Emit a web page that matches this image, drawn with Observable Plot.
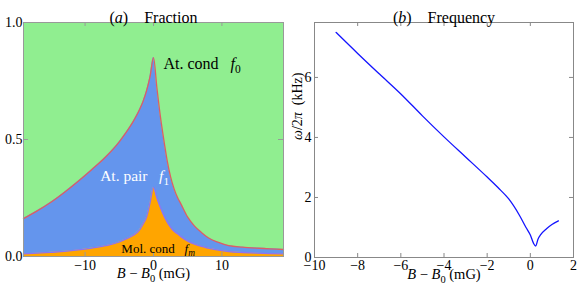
<!DOCTYPE html>
<html><head><meta charset="utf-8">
<script src="https://cdn.jsdelivr.net/npm/d3@7"></script>
<script src="https://cdn.jsdelivr.net/npm/@observablehq/plot@0.6"></script>
<style>
body{margin:0;background:#fff;}
#wrap{display:flex;width:581px;height:291px;overflow:hidden;}
svg, svg text, svg tspan{font-family:"Liberation Serif","Times New Roman",Times,serif !important;}
</style></head><body><div id="wrap"></div>
<script>
// ---- (a) Fraction data ----
const fieldB = [-19,-17,-15,-13,-11,-9,-7,-5,-4,-3,-2,-1.5,-1,-0.5,0,0.5,1,1.5,2,2.5,3,3.5,4,5,6,7,8,9.5,11,13,15,17,19];
const fracMol = [0.011,0.014,0.018,0.022,0.028,0.036,0.046,0.062,0.075,0.09,0.115,0.14,0.17,0.23,0.295,0.25,0.21,0.175,0.147,0.125,0.108,0.097,0.085,0.066,0.053,0.043,0.036,0.027,0.021,0.017,0.014,0.012,0.011];
const fracPair = [0.151,0.181,0.214,0.253,0.294,0.336,0.379,0.428,0.455,0.485,0.515,0.525,0.54,0.54,0.555,0.47,0.39,0.325,0.263,0.215,0.182,0.156,0.14,0.102,0.077,0.06,0.044,0.033,0.025,0.023,0.022,0.021,0.019];
const fracTicks = [0, 0.5, 1];
const fracBTicks = [-10, 0, 10];
const regionLabels = [
  {B: 1.45, y: 0.825, text: "At. cond\u00a0\u00a0 *f*_0", color: "black", size: 16},
  {B: -7.8, y: 0.346, text: "At. pair\u00a0\u00a0 *f*_1", color: "white", size: 15.5},
  {B: -4.7, y: 0.034, text: "Mol. cond\u00a0\u00a0 *f*_*m*", color: "black", size: 13}
];
// ---- (b) Frequency data ----
const freqB = [-9,-8,-7,-6,-5,-4,-3,-2,-1.5,-1,-0.5,-0.2,0,0.15,0.25,0.35,0.5,0.75,1,1.3];
const freqKHz = [7.5,6.8,6.12,5.45,4.72,4.02,3.35,2.68,2.33,1.95,1.4,1.0,0.75,0.47,0.38,0.6,0.78,0.96,1.1,1.22];
const freqBTicks = [-10,-8,-6,-4,-2,0,2];
const freqTicks = [0, 2, 4, 6];

const colors = {m: "#ffa500", p: "#6495ed", green: "#90ee90", lineM: "#8f74f0", lineP: "#dd5f63"};
const font = "'Liberation Serif', 'Times New Roman', Times, serif";

const rows = [
  ...fieldB.map((B, i) => ({B, frac: fracMol[i], comp: "m"})),
  ...fieldB.map((B, i) => ({B, frac: fracPair[i], comp: "p"}))
];

const left = Plot.plot({
  width: 290, height: 291,
  marginLeft: 23, marginRight: 7, marginTop: 22, marginBottom: 35,
  style: {fontFamily: font, fontSize: "14px", background: "white", color: "black"},
  x: {domain: [-19, 19], label: null},
  y: {domain: [0, 1], label: null},
  color: {type: "identity"},
  marks: [
    Plot.frame({fill: colors.green, stroke: null}),
    Plot.areaY(rows, {x: "B", y: "frac", z: "comp", fill: d => colors[d.comp], curve: "monotone-x"}),
    Plot.lineY(rows, Plot.stackY2({x: "B", y: "frac", z: "comp", stroke: d => d.comp === "m" ? colors.lineM : colors.lineP, strokeWidth: 1.3, curve: "monotone-x"})),
    Plot.frame({stroke: "#999", strokeWidth: 1}),
    Plot.tickX(fracBTicks, {x: d => d, insetBottom: 230, stroke: "#999"}),
    Plot.tickX(fracBTicks, {x: d => d, insetTop: 230, stroke: "#999"}),
    Plot.tickY(fracTicks, {y: d => d, insetRight: 255, stroke: "#999"}),
    Plot.tickY(fracTicks, {y: d => d, insetLeft: 255, stroke: "#999"}),
    Plot.axisX({ticks: fracBTicks, tickSize: 0, tickPadding: 4, label: null}),
    Plot.axisY({ticks: fracTicks, tickSize: 0, tickPadding: 1, tickFormat: ".1f", label: null}),
    Plot.text(regionLabels, {x: "B", y: "y", text: "text", fill: "color", textAnchor: "start", fontSize: "size"}),
    Plot.text(["(*a*)\u2002\u00a0 Fraction"], {frameAnchor: "top", dy: -10.5, text: d => d, fontSize: 16}),
    Plot.text(["*B* \u2212 *B*_0 (mG)"], {frameAnchor: "bottom", dy: 21.5, text: d => d, fontSize: 14.5})
  ]
});

const freqRows = freqB.map((B, i) => ({B, f: freqKHz[i]}));
const right = Plot.plot({
  width: 291, height: 291,
  marginLeft: 24, marginRight: 8, marginTop: 22, marginBottom: 34,
  style: {fontFamily: font, fontSize: "14px", background: "white", color: "black"},
  x: {domain: [-10, 2], label: null},
  y: {domain: [0, 7.83], label: null},
  marks: [
    Plot.frame({stroke: "#888", strokeWidth: 1}),
    Plot.tickX(freqBTicks, {x: d => d, insetBottom: 231, stroke: "#888"}),
    Plot.tickX(freqBTicks, {x: d => d, insetTop: 231, stroke: "#888"}),
    Plot.tickY(freqTicks, {y: d => d, insetRight: 255, stroke: "#888"}),
    Plot.tickY(freqTicks, {y: d => d, insetLeft: 255, stroke: "#888"}),
    Plot.line(freqRows, {x: "B", y: "f", stroke: "#1414ff", strokeWidth: 1.3, curve: "monotone-x"}),
    Plot.axisX({ticks: freqBTicks, tickSize: 0, tickPadding: 3, label: null}),
    Plot.axisY({ticks: freqTicks, tickSize: 0, tickPadding: 3, label: null}),
    Plot.text(["(*b*)\u2002\u00a0 Frequency"], {frameAnchor: "top", dy: -10.5, text: d => d, fontSize: 16}),
    Plot.text(["*B* \u2212 *B*_0 (mG)"], {frameAnchor: "bottom", dy: 21, text: d => d, fontSize: 14.5}),
    Plot.text(["*ω*/2*π*\u00a0 (kHz)"], {frameAnchor: "left", dx: -17, rotate: -90, text: d => d, fontSize: 14})
  ]
});

const wrap = document.getElementById("wrap");
wrap.appendChild(left);
wrap.appendChild(right);

function richify(svg) {
  d3.select(svg).selectAll("text").each(function() {
    const el = this;
    const s = el.textContent;
    if (!/[*_]/.test(s)) return;
    const fs = parseFloat(getComputedStyle(el).fontSize) || 14;
    const sh = fs * 0.28;
    el.textContent = "";
    const re = /\*([^*]+)\*|_(\*([^*]+)\*|[^\s*_])|([^*_]+)/g;
    let m, shifted = false;
    while ((m = re.exec(s))) {
      const t = document.createElementNS("http://www.w3.org/2000/svg", "tspan");
      if (m[2] !== undefined) {
        t.textContent = m[3] !== undefined ? m[3] : m[2];
        if (m[3] !== undefined) t.setAttribute("font-style", "italic");
        t.setAttribute("font-size", (fs * 0.72) + "px");
        t.setAttribute("dy", sh);
        shifted = true;
      } else {
        t.textContent = m[1] !== undefined ? m[1] : m[4];
        if (m[1] !== undefined) t.setAttribute("font-style", "italic");
        if (shifted) { t.setAttribute("dy", -sh); shifted = false; }
      }
      el.appendChild(t);
    }
  });
}
richify(left);
richify(right);
</script></body></html>
